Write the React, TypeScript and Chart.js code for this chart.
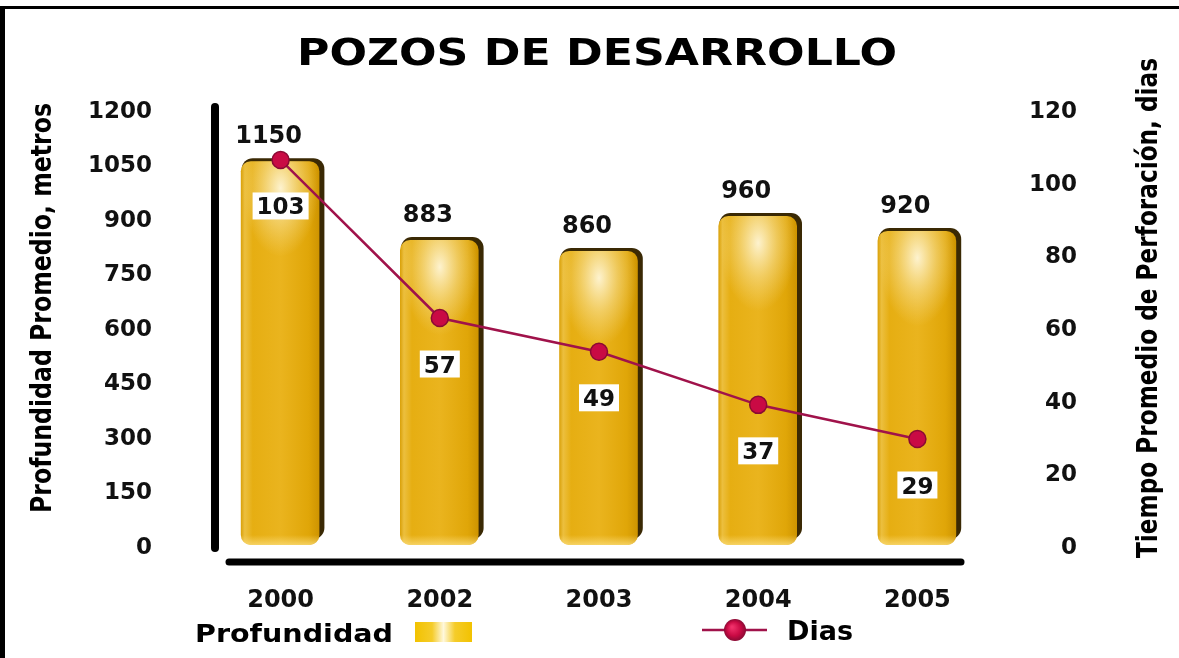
import React, { useEffect, useRef } from 'react';
import { Chart, registerables } from 'chart.js';

Chart.register(...registerables);

// ---- data ----
const years = ['2000', '2002', '2003', '2004', '2005'];
// bar heights as drawn in the picture (metres, left axis)
const depthBars = [1073, 856, 826, 922, 881];
// printed depth labels
const depthLabels = ['1150', '883', '860', '960', '920'];
// line points as drawn (days, right axis)
const daysPoints = [106.8, 63.3, 54, 39.4, 30];
// printed day labels
const daysLabels = ['103', '57', '49', '37', '29'];

const leftMax = 1200;
const leftStep = 150;
const rightMax = 120;
const rightStep = 20;

const titleText = 'POZOS DE DESARROLLO';
const leftAxisTitle = 'Profundidad Promedio, metros';
const rightAxisTitle = 'Tiempo Promedio de Perforación, dias';
const legendDepth = 'Profundidad';
const legendDays = 'Dias';

const FONT = '"DejaVu Sans", "Liberation Sans", Arial, sans-serif';
const LINE_COLOR = '#A0124A';
const POINT_FILL = '#C90A44';
const POINT_BORDER = '#8A0A34';

function fitText(
  ctx: CanvasRenderingContext2D,
  text: string,
  x: number,
  y: number,
  width: number,
  font: string,
  align: CanvasTextAlign,
  rotate = 0
) {
  ctx.save();
  ctx.font = font;
  const w = ctx.measureText(text).width;
  ctx.translate(x, y);
  if (rotate) ctx.rotate(rotate);
  ctx.scale(width / w, 1);
  ctx.textAlign = align;
  ctx.textBaseline = 'alphabetic';
  ctx.fillStyle = '#000';
  ctx.fillText(text, 0, 0);
  ctx.restore();
}

const framePlugin = {
  id: 'framePlugin',
  beforeDraw(chart: any) {
    const { ctx, width, height } = chart;
    ctx.save();
    ctx.fillStyle = '#ffffff';
    ctx.fillRect(0, 0, width, height);
    ctx.fillStyle = '#000';
    ctx.fillRect(0, 6, width, 3);
    ctx.fillRect(0, 6, 5, height - 6);
    ctx.restore();
  },
};

const barPainter = {
  id: 'barPainter',
  beforeDatasetDraw(chart: any, args: any) {
    if (args.index !== 0) return;
    const ctx: CanvasRenderingContext2D = chart.ctx;
    args.meta.data.forEach((el: any) => {
      const { x, y, base, width } = el.getProps(['x', 'y', 'base', 'width'], true);
      const l = x - width / 2;
      const r = x + width / 2;
      const t = y;
      const b = base - 3;
      const h = b - t;
      ctx.save();
      // dark shadow / outline (top + right)
      ctx.fillStyle = '#3a2904';
      ctx.beginPath();
      ctx.roundRect(l + 1, t, width + 3, h - 6, 11);
      ctx.fill();
      // body
      const g = ctx.createLinearGradient(l, 0, r, 0);
      g.addColorStop(0, '#D9A008');
      g.addColorStop(0.05, '#ECBF3E');
      g.addColorStop(0.15, '#E6AE12');
      g.addColorStop(0.5, '#EAB41E');
      g.addColorStop(0.85, '#E0A608');
      g.addColorStop(1, '#CC9200');
      ctx.fillStyle = g;
      ctx.beginPath();
      ctx.roundRect(l, t + 3, width - 1, h - 3, 10);
      ctx.fill();
      // glossy highlight near top
      ctx.save();
      ctx.beginPath();
      ctx.roundRect(l, t + 3, width - 1, h - 3, 10);
      ctx.clip();
      ctx.translate(x, t + 30);
      ctx.scale(1, 1.8);
      const rg = ctx.createRadialGradient(0, 0, 0, 0, 0, 38);
      rg.addColorStop(0, 'rgba(255,248,222,0.92)');
      rg.addColorStop(0.5, 'rgba(252,236,180,0.45)');
      rg.addColorStop(1, 'rgba(250,230,160,0)');
      ctx.fillStyle = rg;
      ctx.fillRect(-60, -40, 120, 80);
      ctx.restore();
      // light bottom rim
      const bg = ctx.createLinearGradient(0, b - 10, 0, b);
      bg.addColorStop(0, 'rgba(250,215,110,0)');
      bg.addColorStop(1, 'rgba(250,220,120,0.8)');
      ctx.fillStyle = bg;
      ctx.beginPath();
      ctx.roundRect(l, b - 10, width - 1, 10, [0, 0, 10, 10]);
      ctx.fill();
      ctx.restore();
    });
    return false;
  },
};

const decorPlugin = {
  id: 'decorPlugin',
  afterDatasetsDraw(chart: any) {
    const ctx: CanvasRenderingContext2D = chart.ctx;
    const area = chart.chartArea;
    ctx.save();
    // axis lines
    ctx.strokeStyle = '#000';
    ctx.lineCap = 'round';
    ctx.lineWidth = 8;
    ctx.beginPath();
    ctx.moveTo(area.left + 14, area.top - 5);
    ctx.lineTo(area.left + 14, area.bottom);
    ctx.stroke();
    ctx.lineWidth = 7;
    ctx.beginPath();
    ctx.moveTo(area.left + 28, area.bottom + 14);
    ctx.lineTo(area.right - 36, area.bottom + 14);
    ctx.stroke();

    // depth labels above bars
    const barMeta = chart.getDatasetMeta(0);
    ctx.fillStyle = '#111';
    ctx.font = `bold 24px ${FONT}`;
    ctx.textAlign = 'center';
    ctx.textBaseline = 'alphabetic';
    barMeta.data.forEach((el: any, i: number) => {
      ctx.fillText(depthLabels[i], el.x - 12, el.y - 15);
    });

    // day labels in white boxes below points
    const lineMeta = chart.getDatasetMeta(1);
    ctx.font = `bold 23px ${FONT}`;
    lineMeta.data.forEach((el: any, i: number) => {
      const txt = daysLabels[i];
      const w = ctx.measureText(txt).width + 8;
      const hgt = 27;
      const cx = el.x;
      const cy = el.y + 46;
      ctx.fillStyle = '#ffffff';
      ctx.fillRect(cx - w / 2, cy - hgt / 2, w, hgt);
      ctx.fillStyle = '#111';
      ctx.fillText(txt, cx, cy + 8.5);
    });
    ctx.restore();
  },
  afterDraw(chart: any) {
    const ctx: CanvasRenderingContext2D = chart.ctx;
    // title
    fitText(ctx, titleText, 597, 65, 600, `bold 38px ${FONT}`, 'center');
    // axis titles
    fitText(ctx, leftAxisTitle, 51, 308, 410, `bold 29px ${FONT}`, 'center', -Math.PI / 2);
    fitText(ctx, rightAxisTitle, 1157, 308, 500, `bold 29px ${FONT}`, 'center', -Math.PI / 2);

    // legend
    fitText(ctx, legendDepth, 195, 642, 198, `bold 25px ${FONT}`, 'left');
    ctx.save();
    const sg = ctx.createLinearGradient(415, 0, 472, 0);
    sg.addColorStop(0, '#F2C200');
    sg.addColorStop(0.3, '#F5CC2A');
    sg.addColorStop(0.5, '#FFF8DC');
    sg.addColorStop(0.7, '#F5CC2A');
    sg.addColorStop(1, '#F2C200');
    ctx.fillStyle = sg;
    ctx.fillRect(415, 622, 57, 20);
    ctx.strokeStyle = LINE_COLOR;
    ctx.lineWidth = 2.5;
    ctx.beginPath();
    ctx.moveTo(702, 630);
    ctx.lineTo(767, 630);
    ctx.stroke();
    const pg = ctx.createRadialGradient(732, 627, 1, 735, 630, 11);
    pg.addColorStop(0, '#F0306A');
    pg.addColorStop(0.6, POINT_FILL);
    pg.addColorStop(1, POINT_BORDER);
    ctx.fillStyle = pg;
    ctx.beginPath();
    ctx.arc(735, 630, 11, 0, Math.PI * 2);
    ctx.fill();
    ctx.restore();
    fitText(ctx, legendDays, 787, 640, 66, `bold 26px ${FONT}`, 'left');
  },
};

export default function App() {
  const ref = useRef<HTMLCanvasElement | null>(null);

  useEffect(() => {
    if (!ref.current) return;
    const chart = new Chart(ref.current, {
      type: 'bar',
      data: {
        labels: years,
        datasets: [
          {
            type: 'bar',
            label: legendDepth,
            data: depthBars,
            yAxisID: 'y',
            backgroundColor: '#E6AD08',
            barPercentage: 0.5,
            categoryPercentage: 1,
            order: 2,
          },
          {
            type: 'line',
            label: legendDays,
            data: daysPoints,
            yAxisID: 'y1',
            borderColor: LINE_COLOR,
            borderWidth: 2.5,
            tension: 0,
            pointRadius: 8.5,
            pointBackgroundColor: POINT_FILL,
            pointBorderColor: POINT_BORDER,
            pointBorderWidth: 1.5,
            order: 1,
          } as any,
        ],
      },
      options: {
        responsive: false,
        animation: false,
        devicePixelRatio: 1,
        layout: { padding: { top: 112, right: 102, bottom: 0, left: 0 } },
        plugins: {
          legend: { display: false },
          title: { display: false },
          tooltip: { enabled: false },
        },
        scales: {
          x: {
            type: 'category',
            offset: true,
            grid: { display: false },
            border: { display: false },
            ticks: {
              color: '#111',
              padding: 30,
              font: { family: FONT, size: 24, weight: 'bold' },
            },
            afterFit(scale: any) {
              scale.height = 110;
            },
          },
          y: {
            position: 'left',
            min: 0,
            max: leftMax,
            grid: { display: false },
            border: { display: false },
            ticks: {
              stepSize: leftStep,
              color: '#111',
              padding: 41,
              font: { family: FONT, size: 23, weight: 'bold' },
              callback: (v: any) => String(v),
            },
            afterFit(scale: any) {
              scale.width = 201;
            },
          },
          y1: {
            position: 'right',
            min: 0,
            max: rightMax,
            grid: { display: false },
            border: { display: false },
            ticks: {
              stepSize: rightStep,
              color: '#111',
              crossAlign: 'far',
              font: { family: FONT, size: 23, weight: 'bold' },
              callback: (v: any) => String(v),
            },
            afterFit(scale: any) {
              scale.width = 80;
            },
          },
        },
      } as any,
      plugins: [framePlugin, barPainter, decorPlugin],
    });
    return () => chart.destroy();
  }, []);

  return (
    <div style={{ position: 'absolute', left: 0, top: 0, width: 1179, height: 658, background: '#fff' }}>
      <canvas ref={ref} width={1179} height={658} style={{ display: 'block' }} />
    </div>
  );
}
